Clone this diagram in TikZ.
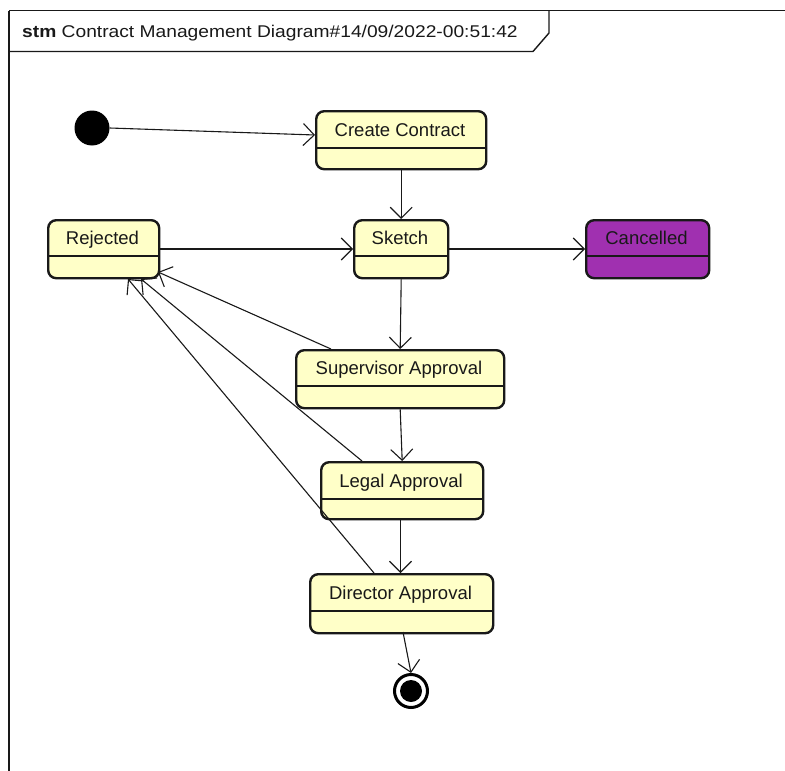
\documentclass[tikz,border=0pt]{standalone}
\usepackage{fontspec}
\setmainfont{Liberation Sans}
\usetikzlibrary{arrows.meta}
\definecolor{statefill}{RGB}{255,255,200}
\definecolor{cancelfill}{RGB}{160,48,176}
\definecolor{ink}{RGB}{25,25,25}
\tikzset{
  state/.style={draw=ink, line width=2.4pt, rounded corners=8pt, fill=statefill,
    minimum height=58pt, inner sep=0pt},
  divider/.style={draw=ink, line width=1.4pt},
  trans/.style={draw=ink, line width=1.1pt,
    -{Straight Barb[length=11pt,width=22pt,line width=1.1pt]}},
  lbl/.style={font=\fontsize{18.5}{22}\selectfont, text=ink, inner sep=0pt}
}
% draws a two-compartment state box: name, left, top, right, bottom, divider y, fill, text
\newcommand{\umlstate}[8]{%
  \node[state, fill=#7, minimum width={#4-#2}, minimum height={#5-#3}, anchor=north west]
    (#1) at (#2,#3) {};
  \draw[divider] (#2,#6) -- (#4,#6);
  \node[lbl, anchor=base] (#1-name) at ({(#2+#4)/2},{#6-11.5}) {#8};
}
\begin{document}
\begin{tikzpicture}[x=1pt,y=-1pt]
\useasboundingbox (0,0) rectangle (785,771);
\fill[white] (0,0) rectangle (785,771);

% diagram frame and name tab
\draw[ink, line width=2pt] (9,771) -- (9,10.5);
\draw[ink, line width=1.4pt] (9,10.5) -- (785,10.5);
\draw[ink, line width=1.4pt] (549,10.5) -- (549,33) -- (533,51.5) -- (9,51.5);
\node[lbl, anchor=base west, font=\fontsize{17}{20}\selectfont, xscale=1.13] (title) at (22,37)
  {\textbf{stm} Contract Management Diagram\#14/09/2022-00:51:42};

% states
\umlstate{create}{315}{110}{485}{168}{148}{statefill}{Create Contract}
\umlstate{sketch}{353}{219}{447}{277}{256}{statefill}{Sketch}
\umlstate{rejected}{47}{219}{158}{277}{256}{statefill}{Rejected}
\umlstate{cancelled}{585}{219}{708}{277}{256}{cancelfill}{Cancelled}
\umlstate{super}{295}{349}{503}{407}{386}{statefill}{Supervisor Approval}
\umlstate{legal}{320}{461}{482}{518}{499}{statefill}{Legal Approval}
\umlstate{director}{309}{573}{492}{632}{611}{statefill}{Director Approval}

% pseudo states
\node[circle, fill=black, minimum size=35pt, inner sep=0pt] (init) at (92,128) {};
\node[circle, draw=black, line width=3pt, fill=white, minimum size=33pt, inner sep=0pt] (final) at (411,691) {};
\node[circle, fill=black, minimum size=22pt, inner sep=0pt] (finaldot) at (411,691) {};

% transitions
\coordinate (cc-in) at (315,135);
\draw[trans] (init.east) -- (cc-in);
\draw[trans] (create.south) -- (sketch.north);
\draw[trans] (rejected.east |- 0,249) -- (sketch.west |- 0,249);
\draw[trans] (sketch.east |- 0,249) -- (cancelled.west |- 0,249);
\draw[trans] (sketch.south) -- (super.north);
\draw[trans] (super.south) -- (legal.north);
\draw[trans] (legal.south -| 400.5,0) -- (director.north -| 400.5,0);
\coordinate (dir-out) at (403,632);
\draw[trans] (dir-out) -- (final.north);

% rejections back to the Rejected state
\coordinate (sup-out) at (331,349);
\coordinate (leg-out) at (362,461);
\coordinate (dir-up) at (374,573);
\coordinate (rej-a) at (158,272);
\coordinate (rej-b) at (141,279);
\coordinate (rej-c) at (128,279);
\draw[trans] (sup-out) -- (rej-a);
\draw[trans] (leg-out) -- (rej-b);
\draw[trans] (dir-up) -- (rej-c);
\end{tikzpicture}
\end{document}
